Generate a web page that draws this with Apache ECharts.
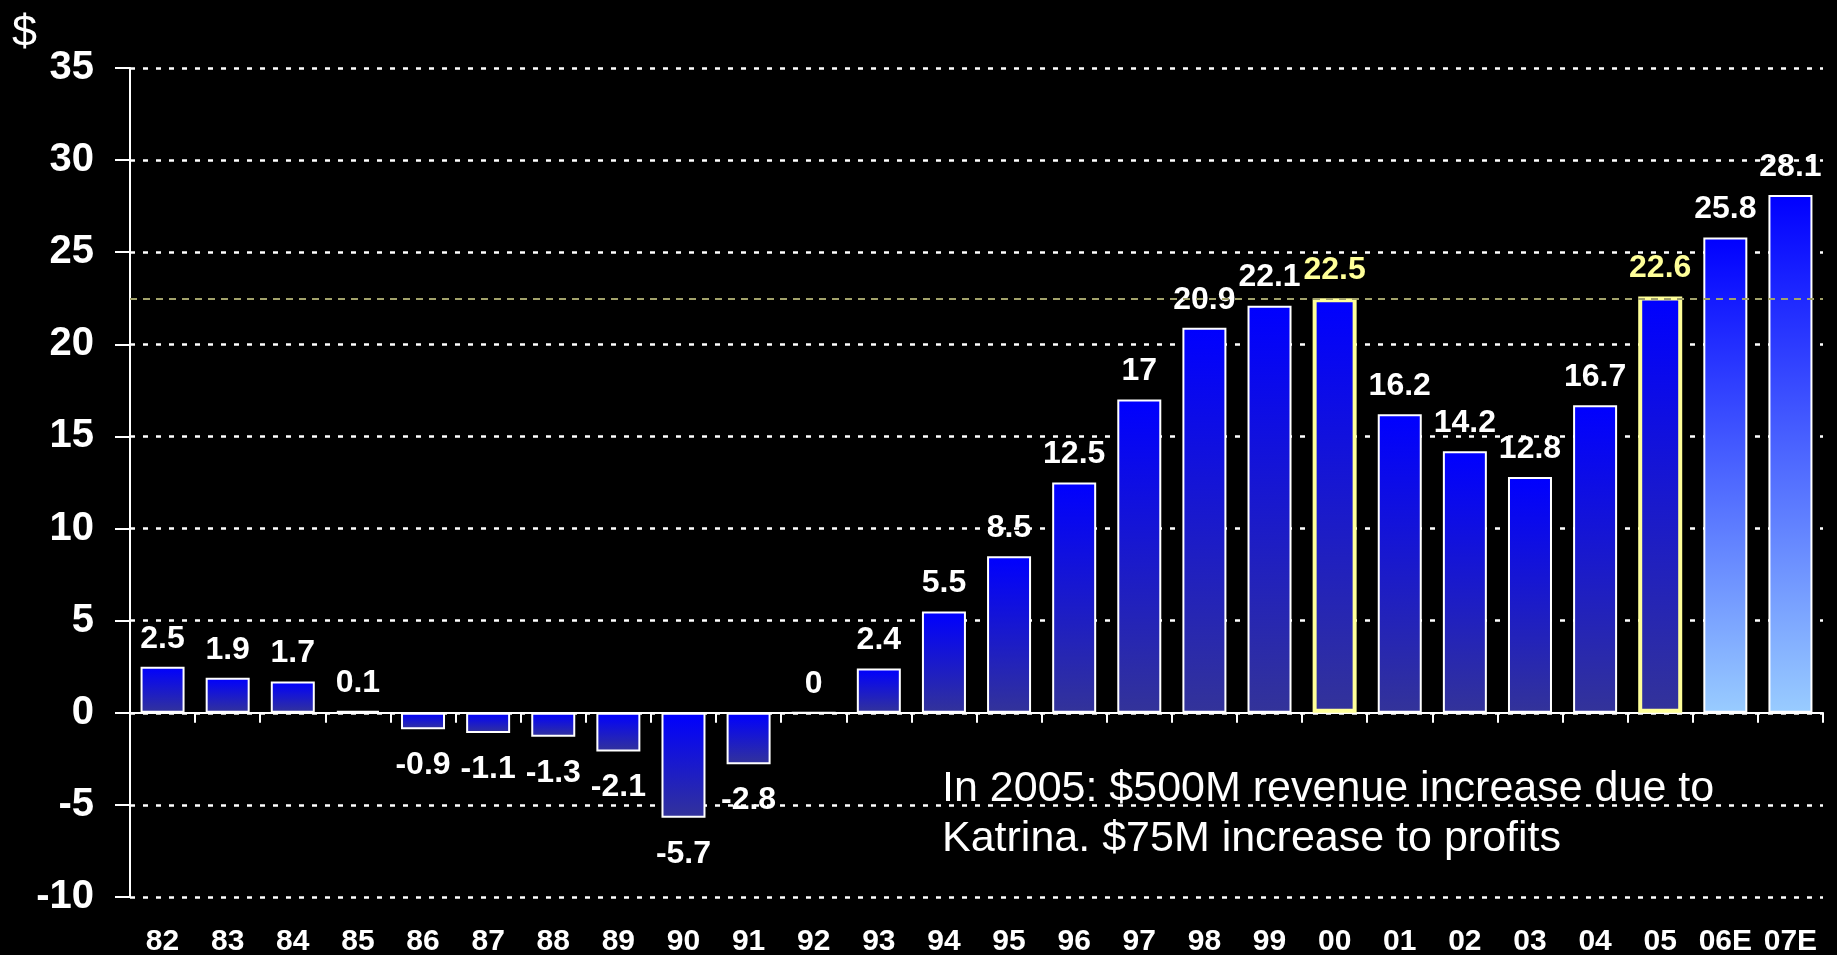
<!DOCTYPE html>
<html>
<head>
<meta charset="utf-8">
<title>Profits</title>
<script src="https://cdn.jsdelivr.net/npm/echarts@6/dist/echarts.min.js"></script>
<style>
  html, body { margin: 0; padding: 0; background: #000; }
  #chart { width: 1837px; height: 955px; }
</style>
</head>
<body>
<div id="chart"></div>
<script>
// data
const years = ['82', '83', '84', '85', '86', '87', '88', '89', '90', '91', '92', '93', '94',
  '95', '96', '97', '98', '99', '00', '01', '02', '03', '04', '05', '06E', '07E']
const profits = [2.5, 1.9, 1.7, 0.1, -0.9, -1.1, -1.3, -2.1, -5.7, -2.8, 0, 2.4, 5.5,
  8.5, 12.5, 17, 20.9, 22.1, 22.5, 16.2, 14.2, 12.8, 16.7, 22.6, 25.8, 28.1]
const highlightYears = ['00', '05']
const estimateYears = ['06E', '07E']
const referenceLevel = [22.5]
const note = ['In 2005: $500M revenue increase due to', 'Katrina. $75M increase to profits']

const FONT = "'Liberation Sans', Arial, sans-serif"

const chart = echarts.init(document.getElementById('chart'))

const grad = (bottom) => new echarts.graphic.LinearGradient(0, 0, 0, 1, [
  { offset: 0, color: '#0000ff' },
  { offset: 1, color: bottom }
])

const barData = profits.map((v, i) => {
  const yr = years[i]
  const hot = highlightYears.includes(yr)
  const est = estimateYears.includes(yr)
  return {
    value: v,
    itemStyle: {
      color: grad(est ? '#99ccff' : '#333399'),
      borderColor: hot ? '#ffff99' : '#ffffff',
      borderWidth: hot ? 4 : 2
    },
    label: {
      position: v < 0 ? 'bottom' : 'top',
      distance: v < 0 ? 20 : 12,
      color: hot ? '#ffff99' : '#ffffff'
    }
  }
})

const option = {
  backgroundColor: '#000000',
  animation: false,
  grid: { left: 130, right: 14, top: 68, bottom: 58, outerBoundsMode: 'none' },
  xAxis: [
    {
      type: 'category',
      data: years,
      axisLine: { onZero: true, lineStyle: { color: '#ffffff', width: 2 } },
      axisTick: { show: true, length: 10, lineStyle: { color: '#ffffff', width: 2 } },
      axisLabel: { show: false },
      splitLine: { show: false }
    },
    {
      type: 'category',
      data: years,
      position: 'bottom',
      axisLine: { show: false, onZero: false },
      axisTick: { show: false },
      axisLabel: {
        interval: 0,
        margin: 30,
        color: '#ffffff',
        fontFamily: FONT,
        fontWeight: 'bold',
        fontSize: 30
      }
    }
  ],
  yAxis: {
    type: 'value',
    min: -10,
    max: 35,
    interval: 5,
    axisLine: { show: true, lineStyle: { color: '#ffffff', width: 2 } },
    axisTick: { show: true, length: 15, lineStyle: { color: '#ffffff', width: 2 } },
    axisLabel: {
      margin: 36,
      color: '#ffffff',
      fontFamily: FONT,
      fontWeight: 'bold',
      fontSize: 40
    },
    splitLine: {
      show: true,
      lineStyle: { color: '#ffffff', width: 2.5, type: [5, 8] }
    }
  },
  series: [
    {
      type: 'bar',
      xAxisIndex: 0,
      barWidth: 44,
      data: barData,
      label: {
        show: true,
        fontFamily: FONT,
        fontWeight: 'bold',
        fontSize: 32
      },
      markLine: {
        silent: true,
        symbol: 'none',
        label: { show: false },
        lineStyle: { color: '#a3a36c', width: 2, type: [7, 6] },
        data: referenceLevel.map(v => ({ yAxis: v }))
      }
    }
  ],
  graphic: [
    {
      type: 'text',
      left: 12,
      top: 11,
      style: { text: '$', fill: '#ffffff', font: '45px ' + FONT }
    },
    {
      type: 'text',
      left: 942,
      top: 764,
      style: {
        text: note.join('\n'),
        fill: '#ffffff',
        font: '43px ' + FONT,
        lineHeight: 50
      }
    }
  ]
}

chart.setOption(option)
</script>
</body>
</html>
